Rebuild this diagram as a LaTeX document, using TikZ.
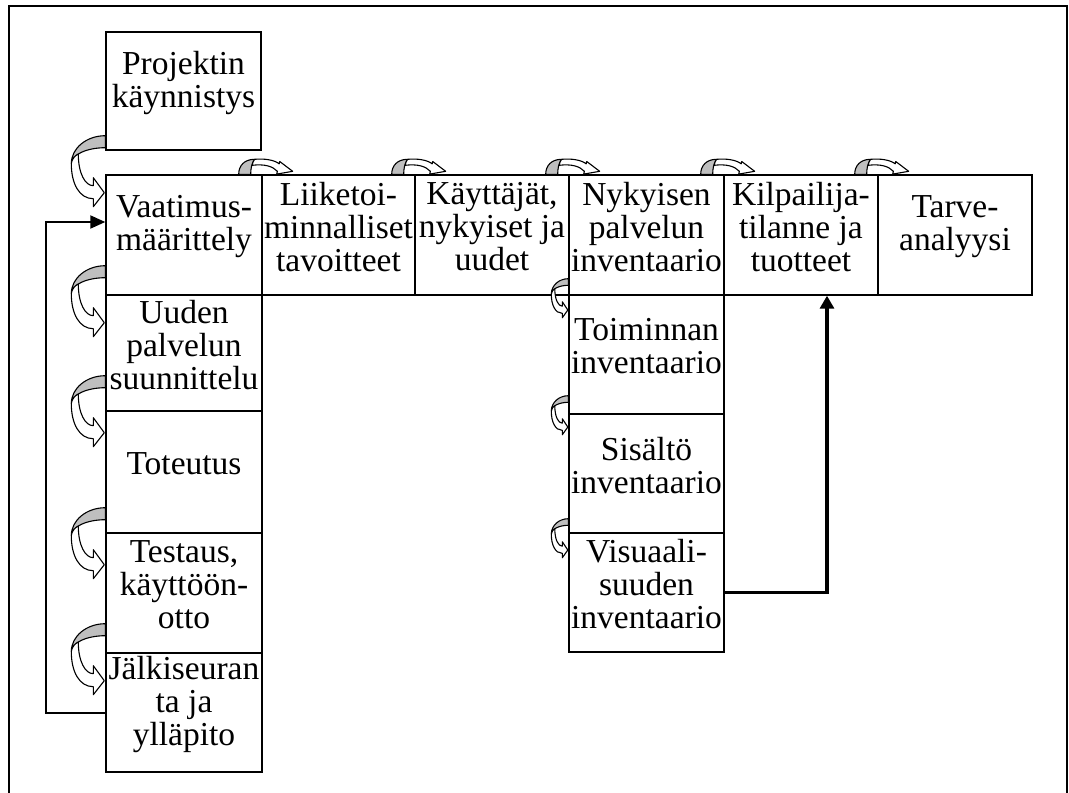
\documentclass[tikz,border=0pt]{standalone}
\usepackage{fontspec}
\setmainfont{Liberation Serif}
\usetikzlibrary{arrows.meta}
\begin{document}
\begin{tikzpicture}[x=1pt,y=-1pt,
  box/.style={draw, line width=1.4pt, inner sep=0pt},
  txt/.style={inner sep=0pt, align=center, font=\fontsize{33.5}{33}\selectfont},
  carr/.style={draw=black, line width=1.1pt, line join=round},
  back/.style={carr, fill=gray!50},
  front/.style={carr, fill=white},
  loopL/.pic={
    \path[back] (0,0) .. controls (-18.8,0) and (-34,12.5) .. (-34,28)
       .. controls (-34,19.2) and (-18.8,12) .. (0,12) -- cycle;
    \path[front] (-34,28) .. controls (-34,48) and (-26,63) .. (-12,63)
       -- (-12,71) -- (-1,57) -- (-12,42) -- (-12,50)
       .. controls (-20,50) and (-27,38) .. (-27,18.3)
       .. controls (-30.5,20) and (-33.5,23.5) .. (-34,28) -- cycle;
  },
  loopT/.pic={
    \path[back] (0,0) .. controls (0,-9) and (6,-15) .. (16,-15)
       .. controls (13,-11) and (12,-6) .. (12,0) -- cycle;
    \path[front] (16,-15) .. controls (27,-16) and (36,-14) .. (40.5,-10.5)
       -- (41,-12.8) -- (54,-3) -- (38,-0.2) -- (38.7,-3)
       .. controls (34,-8) and (26,-10.5) .. (13.3,-9)
       .. controls (14,-12) and (15,-14) .. (16,-15) -- cycle;
  },
  fb/.style={line width=2pt, -{Triangle[length=15pt,width=13pt]}},
  fbb/.style={line width=3.2pt, -{Triangle[length=13pt,width=14pt]}}
]
\useasboundingbox (0,0) rectangle (1069,793);
% outer frame
\draw[line width=1.4pt] (9,793) -- (9,6) -- (1067,6) -- (1067,793);

\newcommand\stagebox[5]{%
  \node[box, minimum width=#3, minimum height=#4] (#1) at #2 {};
  \node[txt] (#1-t) at ([yshift=8pt]#1.center) {#5};
}
\stagebox{proj}{(183.5,91)}{155pt}{118pt}{Projektin\\käynnistys}
\stagebox{vaat}{(184,235)}{156pt}{120pt}{Vaatimus-\\määrittely}
\stagebox{liike}{(338.5,235)}{153pt}{120pt}{Liiketoi-\\minnalliset\\tavoitteet}
\stagebox{kaytt}{(492,235)}{154pt}{120pt}{Käyttäjät,\\nykyiset ja\\uudet}
\stagebox{nyky}{(646.5,235)}{155pt}{120pt}{Nykyisen\\palvelun\\inventaario}
\stagebox{kilp}{(801,235)}{154pt}{120pt}{Kilpailija-\\tilanne ja\\tuotteet}
\stagebox{tarve}{(955,235)}{154pt}{120pt}{Tarve-\\analyysi}
\stagebox{uuden}{(184,353)}{156pt}{116pt}{Uuden\\palvelun\\suunnittelu}
\stagebox{tot}{(184,472)}{156pt}{122pt}{Toteutus}
\stagebox{test}{(184,593)}{156pt}{120pt}{Testaus,\\käyttöön-\\otto}
\stagebox{jalki}{(184,712.5)}{156pt}{119pt}{Jälkiseuran\\ta ja\\ylläpito}
\stagebox{toim}{(646.5,354.5)}{155pt}{119pt}{Toiminnan\\inventaario}
\stagebox{sis}{(646.5,473.5)}{155pt}{119pt}{Sisältö\\inventaario}
\stagebox{vis}{(646.5,592.5)}{155pt}{119pt}{Visuaali-\\suuden\\inventaario}

% curved arrows, left column
\pic at ([yshift=15pt]proj.south west) {loopL};
\pic at ([yshift=30pt]vaat.south west) {loopL};
\pic at ([yshift=36pt]uuden.south west) {loopL};
\pic at ([yshift=26pt]tot.south west) {loopL};
\pic at ([yshift=30pt]test.south west) {loopL};
% curved arrows, inventory column
\pic[xscale=0.5,yscale=0.55] at ([yshift=17pt]nyky.south west) {loopL};
\pic[xscale=0.5,yscale=0.55] at ([yshift=19pt]toim.south west) {loopL};
\pic[xscale=0.5,yscale=0.55] at ([yshift=15pt]sis.south west) {loopL};
% curved arrows, top row
\pic at ([xshift=-24pt]vaat.north east) {loopT};
\pic at ([xshift=-24pt]liike.north east) {loopT};
\pic at ([xshift=-24pt]kaytt.north east) {loopT};
\pic at ([xshift=-24pt]nyky.north east) {loopT};
\pic at ([xshift=-24pt]kilp.north east) {loopT};

% feedback connectors
\draw[fb] (jalki.west) -- ++(-59,0) |- ([yshift=13pt]vaat.west);
\draw[fbb] (vis.east) -| ([xshift=26pt]kilp.south);
\end{tikzpicture}
\end{document}
